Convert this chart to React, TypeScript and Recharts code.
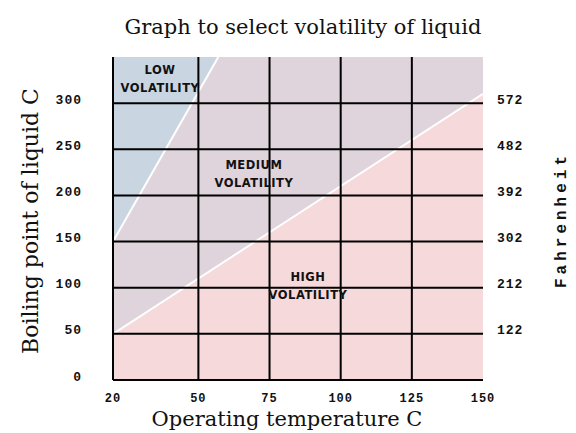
import React from 'react';
import { ComposedChart, Area, Line, XAxis, YAxis, ReferenceLine, Scatter } from 'recharts';

// axis ticks (Celsius on the left, Fahrenheit on the right)
const xTicks = [20, 50, 75, 100, 125, 150];
const yTicks = [0, 50, 100, 150, 200, 250, 300];
const fahrenheitTicks = [50, 100, 150, 200, 250, 300];
const fahrenheitLabels = ['122', '212', '302', '392', '482', '572'];
const gridX = [50, 75, 100, 125];
const gridY = [50, 100, 150, 200, 250, 300];

// region boundaries
const plotTop = [{ x: 20, y: 350 }, { x: 150, y: 350 }];
const highBoundary = [{ x: 20, y: 50 }, { x: 150, y: 310 }];
const lowBoundary = [{ x: 20, y: 150 }, { x: 57, y: 350 }];
const lowRegion = [{ x: 20, lo: 150, hi: 350 }, { x: 57, lo: 350, hi: 350 }];

const regionLabels = [
  { x: 36.5, y: 336, top: 'LOW', bottom: 'VOLATILITY' },
  { x: 69.5, y: 233, top: 'MEDIUM', bottom: 'VOLATILITY' },
  { x: 88.5, y: 112, top: 'HIGH', bottom: 'VOLATILITY' },
];

const colors = {
  low: '#c9d5e0',
  medium: '#dfd3dc',
  high: '#f6d9da',
};

const tickFont = { fontFamily: '"Liberation Mono", monospace', fontWeight: 700, fontSize: 13, letterSpacing: 1 };

const LeftTick = ({ x, y, payload }: any) => (
  <text x={x} y={y - 4} dy="0.35em" textAnchor="end" fill="#111" style={tickFont}>
    {payload.value}
  </text>
);

const RightTick = ({ x, y, payload }: any) => {
  const i = fahrenheitTicks.indexOf(payload.value);
  return (
    <text x={x} y={y - 4} dy="0.35em" textAnchor="start" fill="#111" style={tickFont}>
      {fahrenheitLabels[i]}
    </text>
  );
};

const BottomTick = ({ x, y, payload }: any) => (
  <text x={x} y={y} dy="0.35em" textAnchor="middle" fill="#111" style={{ ...tickFont, fontSize: 12 }}>
    {payload.value}
  </text>
);

const RegionLabel = ({ cx, cy, payload }: any) => (
  <g style={{ fontFamily: '"DejaVu Sans", sans-serif', fontWeight: 700, fontSize: 11.5, letterSpacing: 0.5 }} fill="#111">
    <text x={cx} y={cy} dy="0.35em" textAnchor="middle">{payload.top}</text>
    <text x={cx} y={cy + 18} dy="0.35em" textAnchor="middle">{payload.bottom}</text>
  </g>
);

export default function App() {
  const serif = '"DejaVu Serif", serif';
  return (
    <div style={{ position: 'absolute', left: 0, top: 0, width: 576, height: 433, background: '#fff' }}>
      <ComposedChart width={576} height={433} margin={{ top: 57, right: 0, bottom: 0, left: 0 }}>
        <XAxis
          type="number"
          dataKey="x"
          domain={[20, 150]}
          ticks={xTicks}
          interval={0}
          height={53}
          tickLine={false}
          tickSize={0}
          tickMargin={18}
          axisLine={{ stroke: '#000', strokeWidth: 2 }}
          tick={<BottomTick />}
          allowDataOverflow
        />
        <YAxis
          yAxisId="left"
          type="number"
          domain={[0, 350]}
          ticks={yTicks}
          interval={0}
          width={113}
          tickLine={false}
          tickSize={0}
          tickMargin={31}
          axisLine={{ stroke: '#000', strokeWidth: 2 }}
          tick={<LeftTick />}
          allowDataOverflow
        />
        <YAxis
          yAxisId="right"
          orientation="right"
          type="number"
          domain={[0, 350]}
          ticks={fahrenheitTicks}
          interval={0}
          width={93}
          tickLine={false}
          tickSize={0}
          tickMargin={14}
          axisLine={false}
          tick={<RightTick />}
          allowDataOverflow
        />

        <Area yAxisId="left" data={plotTop} dataKey="y" type="linear" fill={colors.medium} fillOpacity={1} stroke="none" isAnimationActive={false} />
        <Area yAxisId="left" data={highBoundary} dataKey="y" type="linear" fill={colors.high} fillOpacity={1} stroke="none" baseValue={0} isAnimationActive={false} />
        <Area yAxisId="left" data={lowRegion} dataKey={(d: any) => [d.lo, d.hi]} type="linear" fill={colors.low} fillOpacity={1} stroke="none" isAnimationActive={false} />

        <Line yAxisId="left" data={highBoundary} dataKey="y" type="linear" stroke="#fff" strokeWidth={2} dot={false} isAnimationActive={false} />
        <Line yAxisId="left" data={lowBoundary} dataKey="y" type="linear" stroke="#fff" strokeWidth={2} dot={false} isAnimationActive={false} />

        {gridX.map((v) => (
          <ReferenceLine key={'x' + v} yAxisId="left" x={v} stroke="#000" strokeWidth={2} />
        ))}
        {gridY.map((v) => (
          <ReferenceLine key={'y' + v} yAxisId="left" y={v} stroke="#000" strokeWidth={2} />
        ))}

        <Scatter yAxisId="left" data={regionLabels} dataKey="y" shape={<RegionLabel />} isAnimationActive={false} />
      </ComposedChart>

      <div style={{ position: 'absolute', left: 303, top: 27, transform: 'translate(-50%, -50%)', whiteSpace: 'nowrap', fontFamily: serif, fontSize: 21, color: '#111' }}>
        Graph to select volatility of liquid
      </div>
      <div style={{ position: 'absolute', left: 30, top: 221, transform: 'translate(-50%, -50%) rotate(-90deg)', whiteSpace: 'nowrap', fontFamily: serif, fontSize: 22, color: '#111' }}>
        Boiling point of liquid C
      </div>
      <div style={{ position: 'absolute', left: 287, top: 419, transform: 'translate(-50%, -50%)', whiteSpace: 'nowrap', fontFamily: serif, fontSize: 21, color: '#111' }}>
        Operating temperature C
      </div>
      <div style={{ position: 'absolute', left: 562, top: 220, transform: 'translate(-50%, -50%) rotate(-90deg)', whiteSpace: 'nowrap', fontFamily: '"Liberation Mono", monospace', fontWeight: 700, fontSize: 16, letterSpacing: 4, color: '#111' }}>
        Fahrenheit
      </div>
    </div>
  );
}
